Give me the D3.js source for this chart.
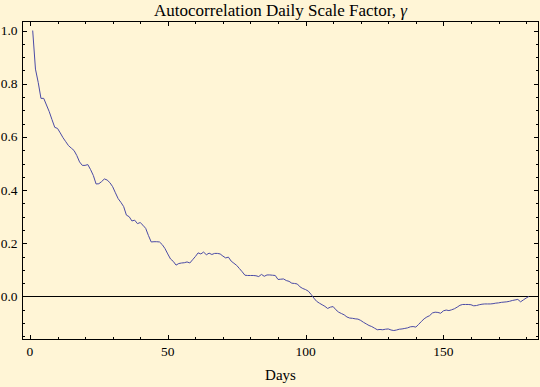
<!DOCTYPE html>
<html>
<head>
<meta charset="utf-8">
<script src="https://cdn.jsdelivr.net/npm/d3@7"></script>
<style>
body{margin:0;background:#fff5d6}
svg{display:block}
text{font-family:"Liberation Serif","Times New Roman",serif;fill:#000}
</style>
</head>
<body>
<svg id="svg1" width="540" height="387"></svg>
<script>
var svg = d3.select("#svg1")
var W = 540, H = 387

// autocorrelation per day, lag 1..181
var days = d3.range(1, 182)
var acf = [
1.000,0.855,0.805,0.745,0.745,0.720,0.695,0.665,0.636,0.632,
0.615,0.597,0.582,0.567,0.558,0.549,0.530,0.506,0.493,0.493,
0.496,0.477,0.455,0.423,0.424,0.432,0.442,0.438,0.428,0.413,
0.390,0.368,0.354,0.338,0.306,0.300,0.284,0.287,0.274,0.278,
0.268,0.256,0.229,0.205,0.206,0.206,0.205,0.195,0.180,0.160,
0.141,0.132,0.118,0.124,0.126,0.127,0.130,0.126,0.138,0.150,
0.164,0.160,0.167,0.157,0.163,0.158,0.162,0.162,0.160,0.152,
0.145,0.148,0.133,0.125,0.117,0.105,0.093,0.080,0.079,0.079,
0.079,0.078,0.075,0.083,0.076,0.081,0.081,0.080,0.079,0.064,
0.065,0.066,0.060,0.057,0.050,0.049,0.047,0.036,0.030,0.026,
0.020,0.008,-0.006,-0.018,-0.025,-0.031,-0.037,-0.045,-0.040,-0.038,
-0.050,-0.059,-0.064,-0.069,-0.077,-0.081,-0.082,-0.084,-0.085,-0.090,
-0.097,-0.103,-0.109,-0.113,-0.119,-0.125,-0.124,-0.125,-0.123,-0.122,
-0.126,-0.128,-0.126,-0.123,-0.122,-0.120,-0.118,-0.114,-0.113,-0.115,
-0.105,-0.094,-0.084,-0.077,-0.072,-0.062,-0.059,-0.060,-0.063,-0.054,
-0.051,-0.053,-0.050,-0.046,-0.040,-0.033,-0.030,-0.030,-0.030,-0.031,
-0.035,-0.034,-0.031,-0.029,-0.028,-0.028,-0.028,-0.027,-0.025,-0.024,
-0.022,-0.021,-0.020,-0.018,-0.015,-0.013,-0.011,-0.020,-0.013,-0.006,
0.000]

var xMajor = [0, 50, 100, 150]
var yMajor = [0.0, 0.2, 0.4, 0.6, 0.8, 1.0]
var title = "Autocorrelation Daily Scale Factor, "
var xLabel = "Days"

// plot box (note: "top" is a reserved window prop, so use pT etc)
var pL = 22.5, pR = 538.5, pT = 21.5, pB = 339.5

var x = d3.scaleLinear().domain([-2.7, 184.5]).range([pL, pR])
var y = d3.scaleLinear().domain([-0.1617, 1.034]).range([pB, pT])

svg.append("rect").attr("width", W).attr("height", H).attr("fill", "#fff5d6")

var xMinor = d3.range(0, 181, 10).filter(function(d){ return xMajor.indexOf(d) < 0 })
var yMinor = d3.range(-3, 21).map(function(d){ return d*0.05 })
    .filter(function(d){ return d > -0.16 && d < 1.03 && Math.abs(d*5 - Math.round(d*5)) > 1e-6 })

var g = svg.append("g")

// bottom and top ticks
function xticks(vals, len){
    vals.forEach(function(v){
        var px = Math.round(x(v)) + 0.5
        g.append("line").attr("x1", px).attr("x2", px).attr("y1", pB).attr("y2", pB - len)
         .attr("stroke", "#000").attr("stroke-width", 1)
        g.append("line").attr("x1", px).attr("x2", px).attr("y1", pT).attr("y2", pT + len)
         .attr("stroke", "#000").attr("stroke-width", 1)
    })
}
function yticks(vals, len){
    vals.forEach(function(v){
        var py = Math.round(y(v)) + 0.5
        g.append("line").attr("x1", pL).attr("x2", pL + len).attr("y1", py).attr("y2", py)
         .attr("stroke", "#000").attr("stroke-width", 1)
        g.append("line").attr("x1", pR).attr("x2", pR - len).attr("y1", py).attr("y2", py)
         .attr("stroke", "#000").attr("stroke-width", 1)
    })
}
xticks(xMajor, 4.5)
xticks(xMinor, 2.5)
yticks(yMajor, 4.5)
yticks(yMinor, 2.5)

// zero line
g.append("line").attr("x1", pL).attr("x2", pR)
 .attr("y1", Math.round(y(0)) + 0.5).attr("y2", Math.round(y(0)) + 0.5)
 .attr("stroke", "#000").attr("stroke-width", 1)

// data
var line = d3.line().x(function(d, i){ return x(days[i]) }).y(function(d){ return y(d) })
svg.append("path").datum(acf).attr("d", line)
 .attr("fill", "none").attr("stroke", "#4b4ba6").attr("stroke-width", 1)

// frame
svg.append("rect").attr("x", pL).attr("y", pT).attr("width", pR - pL).attr("height", pB - pT)
 .attr("fill", "none").attr("stroke", "#000").attr("stroke-width", 1)

// labels
yMajor.forEach(function(v){
    svg.append("text").attr("x", 17.5).attr("y", y(v) + 4.5).attr("text-anchor", "end")
     .attr("font-size", 13.5).text(d3.format(".1f")(v))
})
xMajor.forEach(function(v){
    svg.append("text").attr("x", x(v)).attr("y", 356).attr("text-anchor", "middle")
     .attr("font-size", 13.5).text(v)
})
svg.append("text").attr("x", (pL + pR)/2).attr("y", 380).attr("text-anchor", "middle")
 .attr("font-size", 15).text(xLabel)

var t = svg.append("text").attr("x", (pL + pR)/2).attr("y", 16).attr("text-anchor", "middle")
 .attr("font-size", 17)
t.append("tspan").text(title)
t.append("tspan").attr("font-style", "italic").text("\u03b3")
</script>
</body>
</html>
